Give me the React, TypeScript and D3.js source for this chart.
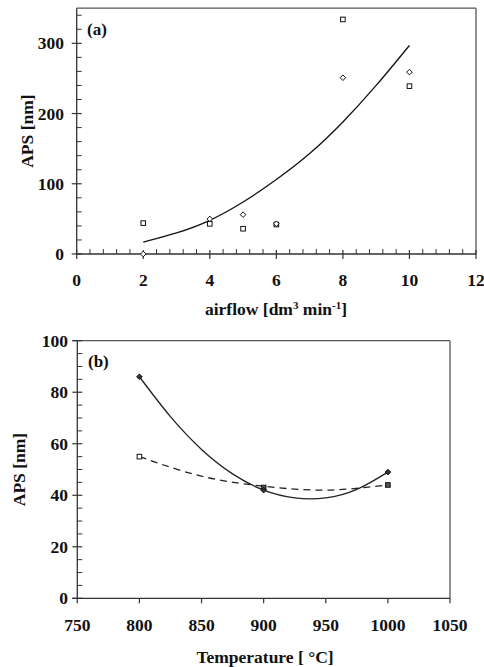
import React from "react";
import * as d3 from "d3";

// Panel (a) data
const airflowSquares: [number, number][] = [[2, 44], [4, 43], [5, 36], [6, 42], [8, 334], [10, 239]];
const airflowDiamonds: [number, number][] = [[2, 0], [4, 50], [5, 56], [6, 43], [8, 251], [10, 259]];
const airflowFit: [number, number][] = [[2, 17], [3, 30], [4, 48], [5, 74], [6, 106], [7, 143], [8, 188], [9, 240], [10, 297]];
const aXTicks = [0, 2, 4, 6, 8, 10, 12];
const aYTicks = [0, 100, 200, 300];

// Panel (b) data
const tempDiamonds: [number, number][] = [[800, 86], [900, 42], [1000, 49]];
const tempSquares: [number, number][] = [[800, 55], [900, 43], [1000, 44]];
const tempFitSolid: [number, number][] = [[800, 86], [825, 70.5], [850, 57.8], [875, 48.3], [900, 42], [925, 39], [950, 39], [975, 42.3], [1000, 49]];
const tempFitDashed: [number, number][] = [[800, 55], [850, 47.4], [900, 43.5], [950, 42], [1000, 44]];
const bXTicks = [750, 800, 850, 900, 950, 1000, 1050];
const bYTicks = [0, 20, 40, 60, 80, 100];

const FONT = "'Liberation Serif', 'DejaVu Serif', serif";
const AX = "#333";

function Square({ x, y, fill = "white" }: { x: number; y: number; fill?: string }) {
  return <rect x={x - 2.3} y={y - 2.3} width={4.6} height={4.6} fill={fill} stroke="#111" strokeWidth={1} />;
}
function Diamond({ x, y, fill = "white" }: { x: number; y: number; fill?: string }) {
  const r = 2.8;
  return <path d={`M${x},${y - r}L${x + r},${y}L${x},${y + r}L${x - r},${y}Z`} fill={fill} stroke="#111" strokeWidth={1} />;
}

export default function App() {
  // Panel a scales
  const ax = d3.scaleLinear().domain([0, 12]).range([76.7, 476]);
  const ay = d3.scaleLinear().domain([0, 350]).range([254, 8.2]);
  const aLine = d3.line<[number, number]>().x(d => ax(d[0])).y(d => ay(d[1])).curve(d3.curveNatural);
  const aXMinor = d3.range(0, 12.001, 0.4).filter(v => Math.abs(v / 2 - Math.round(v / 2)) > 0.01);
  const aYMinor = d3.range(0, 350.001, 20).filter(v => v % 100 !== 0);

  // Panel b scales
  const bx = d3.scaleLinear().domain([750, 1050]).range([77.3, 450]);
  const by = d3.scaleLinear().domain([0, 100]).range([598.3, 340.7]);
  const bLine = d3.line<[number, number]>().x(d => bx(d[0])).y(d => by(d[1])).curve(d3.curveNatural);
  const bYMinor = d3.range(0, 100.001, 5).filter(v => v % 20 !== 0);

  const tickText = { fontFamily: FONT, fontWeight: 700, fontSize: 17.5, fill: "#111" } as const;
  const titleText = { fontFamily: FONT, fontWeight: 700, fontSize: 17.5, fill: "#111" } as const;

  return (
    <svg width={484} height={667} style={{ position: "absolute", left: 0, top: 0, background: "white" }}>
      {/* ================= Panel (a) ================= */}
      <g>
        <line x1={ax(0)} x2={ax(12)} y1={ay(350)} y2={ay(350)} stroke="#555" strokeWidth={1.3} />
        <line x1={ax(12)} x2={ax(12)} y1={ay(350)} y2={ay(0)} stroke="#555" strokeWidth={1.3} />
        <line x1={ax(0)} x2={ax(0)} y1={ay(350)} y2={ay(0)} stroke={AX} strokeWidth={1.3} />
        <line x1={ax(0)} x2={ax(12)} y1={ay(0)} y2={ay(0)} stroke={AX} strokeWidth={1.3} />
        {aXMinor.map(v => (
          <line key={"axm" + v} x1={ax(v)} x2={ax(v)} y1={ay(0)} y2={ay(0) - 5} stroke={AX} strokeWidth={1} />
        ))}
        {aXTicks.map(v => (
          <g key={"axt" + v}>
            <line x1={ax(v)} x2={ax(v)} y1={ay(0) - 4} y2={ay(0) + 5} stroke={AX} strokeWidth={1.2} />
            <text x={ax(v)} y={286} textAnchor="middle" {...tickText}>{v}</text>
          </g>
        ))}
        {aYMinor.map(v => (
          <line key={"aym" + v} x1={ax(0)} x2={ax(0) + 5} y1={ay(v)} y2={ay(v)} stroke={AX} strokeWidth={1} />
        ))}
        {aYTicks.map(v => (
          <g key={"ayt" + v}>
            <line x1={ax(0) - 5} x2={ax(0) + 5} y1={ay(v)} y2={ay(v)} stroke={AX} strokeWidth={1.2} />
            <text x={64} y={ay(v) + 6} textAnchor="end" {...tickText}>{v}</text>
          </g>
        ))}
        <path d={aLine(airflowFit) || ""} fill="none" stroke="#111" strokeWidth={1.3} />
        {airflowSquares.map((d, i) => <Square key={"as" + i} x={ax(d[0])} y={ay(d[1])} />)}
        {airflowDiamonds.map((d, i) => <Diamond key={"ad" + i} x={ax(d[0])} y={ay(d[1])} />)}
        <text x={87} y={35} {...titleText} fontSize={17}>(a)</text>
        <text x={276} y={315} textAnchor="middle" {...titleText}>
          airflow [dm<tspan dy={-6} fontSize={11}>3</tspan><tspan dy={6}> min</tspan><tspan dy={-6} fontSize={11}>-1</tspan><tspan dy={6}>]</tspan>
        </text>
        <text transform={`translate(33,${ay(175)}) rotate(-90)`} textAnchor="middle" {...titleText}>APS [nm]</text>
      </g>

      {/* ================= Panel (b) ================= */}
      <g>
        <line x1={bx(750) - 5} x2={bx(1050)} y1={by(100)} y2={by(100)} stroke="#555" strokeWidth={1.3} />
        <line x1={bx(1050)} x2={bx(1050)} y1={by(100)} y2={by(0)} stroke="#555" strokeWidth={1.3} />
        <line x1={bx(750)} x2={bx(750)} y1={by(100)} y2={by(0)} stroke={AX} strokeWidth={1.3} />
        <line x1={bx(750) - 5} x2={bx(1050)} y1={by(0)} y2={by(0)} stroke={AX} strokeWidth={1.3} />
        {bXTicks.map(v => (
          <g key={"bxt" + v}>
            <line x1={bx(v)} x2={bx(v)} y1={by(0)} y2={by(0) + 5} stroke={AX} strokeWidth={1.2} />
            <text x={bx(v)} y={631} textAnchor="middle" {...tickText}>{v}</text>
          </g>
        ))}
        {bYMinor.map(v => (
          <line key={"bym" + v} x1={bx(750)} x2={bx(750) + 5} y1={by(v)} y2={by(v)} stroke={AX} strokeWidth={1} />
        ))}
        {bYTicks.map(v => (
          <g key={"byt" + v}>
            <line x1={bx(750) - 5} x2={bx(750) + 5} y1={by(v)} y2={by(v)} stroke={AX} strokeWidth={1.2} />
            <text x={68} y={by(v) + 6} textAnchor="end" {...tickText}>{v}</text>
          </g>
        ))}
        <path d={bLine(tempFitSolid) || ""} fill="none" stroke="#222" strokeWidth={1.3} />
        <path d={bLine(tempFitDashed) || ""} fill="none" stroke="#222" strokeWidth={1.3} strokeDasharray="7,5" />
        {tempSquares.map((d, i) => <Square key={"bs" + i} x={bx(d[0])} y={by(d[1])} fill={i === 0 ? "white" : "#555"} />)}
        {tempDiamonds.map((d, i) => <Diamond key={"bd" + i} x={bx(d[0])} y={by(d[1])} fill="#333" />)}
        <text x={88} y={367} {...titleText} fontSize={17}>(b)</text>
        <text x={265} y={663} textAnchor="middle" {...titleText}>Temperature [ °C]</text>
        <text transform={`translate(25,${by(50)}) rotate(-90)`} textAnchor="middle" {...titleText}>APS [nm]</text>
      </g>
    </svg>
  );
}
